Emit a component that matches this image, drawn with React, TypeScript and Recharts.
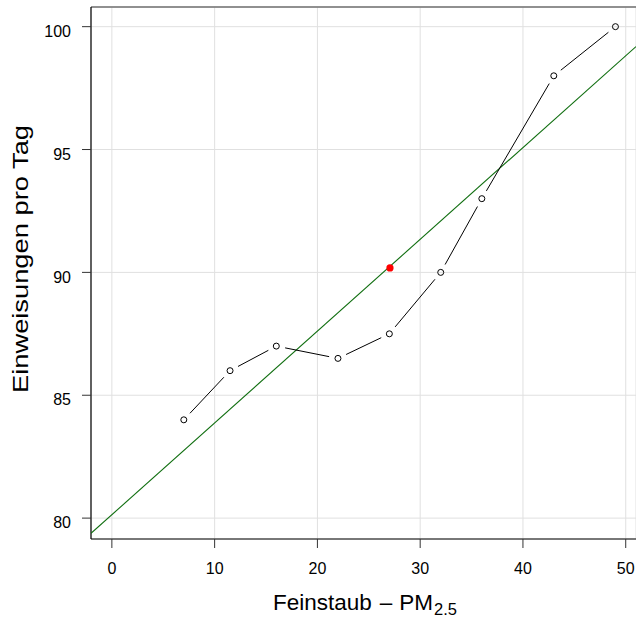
import { ScatterChart, Scatter, XAxis, YAxis, CartesianGrid, ReferenceLine } from 'recharts';

// Einweisungen pro Tag vs. Feinstaub (PM2.5)
const pm25 = [7, 11.5, 16, 22, 27, 32, 36, 43, 49];
const admissions = [84, 86, 87, 86.5, 87.5, 90, 93, 98, 100];

// Schwerpunkt (mean point), drawn in red
const meanX = [27.06];
const meanY = [90.18];

// Regressionsgerade, read at the plot edges
const fitX = [-2.03, 51.0];
const fitY = [79.38, 99.19];

const xTicks = [0, 10, 20, 30, 40, 50];
const yTicks = [80, 85, 90, 95, 100];
const xDomain: [number, number] = [-2.03, 51.0];
const yDomain: [number, number] = [79.15, 100.8];

const FONT = '"Liberation Sans", Arial, Helvetica, sans-serif';
const GAP = 9;

const points = pm25.map((x, i) => ({ x, y: admissions[i] }));
const meanData = meanX.map((x, i) => ({ x, y: meanY[i] }));
const fitData = fitX.map((x, i) => ({ x, y: fitY[i] }));

// R-style type="b": segments that stop short of each point
const GappedLine = (props: any) => {
  const pts = props.points || [];
  const segs = [];
  for (let i = 0; i < pts.length - 1; i++) {
    const a = pts[i];
    const b = pts[i + 1];
    const dx = b.x - a.x;
    const dy = b.y - a.y;
    const len = Math.sqrt(dx * dx + dy * dy);
    if (len <= 2 * GAP) continue;
    const ux = dx / len;
    const uy = dy / len;
    segs.push(
      <line
        key={i}
        x1={a.x + ux * GAP}
        y1={a.y + uy * GAP}
        x2={b.x - ux * GAP}
        y2={b.y - uy * GAP}
        stroke="#000"
        strokeWidth={1}
      />
    );
  }
  return <g>{segs}</g>;
};

const OpenCircle = (props: any) => (
  <circle cx={props.cx} cy={props.cy} r={3} fill="none" stroke="#000" strokeWidth={1} />
);

const RedDot = (props: any) => <circle cx={props.cx} cy={props.cy} r={3.6} fill="#ff0000" />;

const NoShape = () => <g />;

const XTick = (props: any) => (
  <text x={props.x} y={props.y} dy="0.71em" textAnchor="middle" fill="#000" fontSize={16} fontFamily={FONT}>
    {props.payload.value}
  </text>
);

const YTick = (props: any) => (
  <text x={props.x} y={props.y + 4.5} dy="0.355em" textAnchor="end" fill="#000" fontSize={16} fontFamily={FONT}>
    {props.payload.value}
  </text>
);

const XLabel = (props: any) => {
  const vb = props.viewBox;
  return (
    <text x={vb.x + 182} y={vb.y + 71} fill="#000" fontSize={22.5} fontFamily={FONT}>
      <tspan>Feinstaub</tspan>
      <tspan dx={8}>–</tspan>
      <tspan dx={7}>PM</tspan>
      <tspan fontSize={16.5} dx={1} dy={5}>2.5</tspan>
    </text>
  );
};

const YLabel = (props: any) => {
  const vb = props.viewBox;
  const cx = vb.x + 28;
  const cy = vb.y + 252;
  return (
    <text
      x={cx}
      y={cy}
      transform={`rotate(-90, ${cx}, ${cy})`}
      textAnchor="middle"
      fill="#000"
      fontSize={22}
      fontFamily={FONT}
      textLength={268}
      lengthAdjust="spacingAndGlyphs"
    >
      Einweisungen pro Tag
    </text>
  );
};

export default function App() {
  return (
    <div style={{ position: 'absolute', left: 0, top: 0, background: '#fff' }}>
      <ScatterChart width={636} height={619} margin={{ top: 7, right: 0, bottom: 0, left: 0 }}>
        <CartesianGrid stroke="#e0e0e0" strokeWidth={1} />
        <XAxis
          type="number"
          dataKey="x"
          domain={xDomain}
          ticks={xTicks}
          allowDataOverflow
          height={80}
          axisLine={{ stroke: '#000', strokeWidth: 1.2 }}
          tickLine={{ stroke: '#333', strokeWidth: 1 }}
          tickSize={9}
          tickMargin={15}
          tick={<XTick />}
          label={XLabel}
        />
        <YAxis
          type="number"
          dataKey="y"
          domain={yDomain}
          ticks={yTicks}
          allowDataOverflow
          width={91}
          axisLine={{ stroke: '#000', strokeWidth: 1.2 }}
          tickLine={{ stroke: '#333', strokeWidth: 1 }}
          tickSize={9}
          tickMargin={11}
          tick={<YTick />}
          label={YLabel}
        />
        <ReferenceLine y={yDomain[1]} stroke="#707070" strokeWidth={1.6} />
        <Scatter
          data={fitData}
          line={{ stroke: '#0f6e0f', strokeWidth: 1.1 }}
          shape={NoShape}
          isAnimationActive={false}
        />
        <Scatter
          data={points}
          line={GappedLine}
          shape={OpenCircle}
          isAnimationActive={false}
        />
        <Scatter data={meanData} shape={RedDot} isAnimationActive={false} />
      </ScatterChart>
    </div>
  );
}
